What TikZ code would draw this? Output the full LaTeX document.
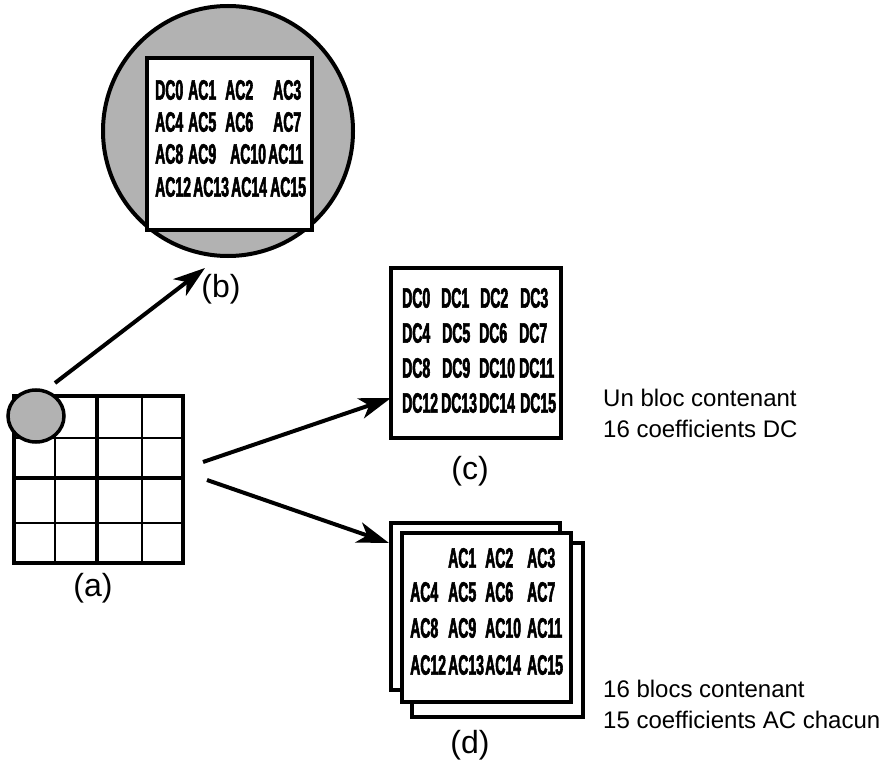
\documentclass[tikz,border=0pt]{standalone}
\usepackage{fontspec}
\setmainfont{Liberation Sans}
\newfontfamily\coeffont[FakeStretch=0.5,FakeBold=2]{Liberation Sans}
\usetikzlibrary{arrows.meta,shapes.geometric}
\tikzset{
  coef/.style={anchor=west, inner sep=0pt, font=\coeffont\bfseries\fontsize{28}{28}\selectfont},
  lbl/.style={inner sep=0pt, font=\fontsize{32}{32}\selectfont},
  side/.style={anchor=base west, inner sep=0pt, font=\fontsize{24}{24}\selectfont},
  arr/.style={line width=4pt, -{Stealth[length=32pt,width=21pt,inset=9pt]}},
  sheet/.style={draw, line width=3.5pt, fill=white, inner sep=0pt},
  thin/.style={line width=2pt},
  thick/.style={line width=3.2pt},
  blob/.style={draw, fill=gray!60, inner sep=0pt}
}
\begin{document}
\begin{tikzpicture}[x=1pt,y=-1pt]
\useasboundingbox (0,0) rectangle (892,765);

% (b) magnified block
\node[blob, circle, line width=4pt, minimum size=250pt] (bcirc) at (228,131) {};
\node[sheet, minimum width=165pt, minimum height=172pt] (binner) at (229.5,144) {};
\foreach \x/\y/\t [count=\i] in {155/90/DC0,188/90/AC1,225/90/AC2,273/90/AC3,
  155/122/AC4,188/122/AC5,225/122/AC6,273/122/AC7,
  155/154/AC8,188/154/AC9,230/154/AC10,268/154/AC11,
  155/187/AC12,193/187/AC13,231/187/AC14,270/187/AC15}
  \node[coef] (b\i) at (\x,\y) {\t};
\node[lbl] (lb) at (221,289) {(b)};

% (a) grid
\node[draw, line width=3.5pt, minimum width=169pt, minimum height=167pt, inner sep=0pt] (grid) at (98.5,479.5) {};
\draw[thin] (55,396) -- (55,563);
\draw[thin] (142,396) -- (142,563);
\draw[thin] (14,438) -- (183,438);
\draw[thin] (14,523) -- (183,523);
\draw[thick] (97,396) -- (97,563);
\draw[thick] (14,478) -- (183,478);
\node[blob, ellipse, line width=3.5pt, minimum width=56pt, minimum height=52pt] (zoomblk) at (36,416) {};
\node[lbl] (la) at (93,588) {(a)};

% (c) DC block
\node[sheet, minimum width=170pt, minimum height=170pt] (cbox) at (476,353) {};
\foreach \x/\y/\t [count=\i] in {402/298/DC0,441/298/DC1,480/298/DC2,520/298/DC3,
  402/333/DC4,442/333/DC5,479/333/DC6,519/333/DC7,
  402/368/DC8,442/368/DC9,479/368/DC10,519/368/DC11,
  402/403/DC12,441/403/DC13,479/403/DC14,520/403/DC15}
  \node[coef] (c\i) at (\x,\y) {\t};
\node[lbl] (lc) at (470,471) {(c)};
\node[side] (uc1) at (603,406) {Un bloc contenant};
\node[side] (uc2) at (603,437) {16 coefficients DC};

% (d) AC blocks
\node[sheet, minimum width=169pt, minimum height=167pt] (dback) at (475.5,606.5) {};
\node[sheet, minimum width=171pt, minimum height=174pt] (dlow) at (497.5,630) {};
\node[sheet, minimum width=169pt, minimum height=169pt] (dfront) at (486.5,617.5) {};
\foreach \x/\y/\t [count=\i] in {448/558/AC1,485/558/AC2,527/558/AC3,
  410/592/AC4,448/592/AC5,485/592/AC6,527/592/AC7,
  410/628/AC8,448/628/AC9,485/628/AC10,527/628/AC11,
  410/665/AC12,448/665/AC13,485/665/AC14,527/665/AC15}
  \node[coef] (d\i) at (\x,\y) {\t};
\node[lbl] (ld) at (470,745) {(d)};
\node[side] (ud1) at (603,697) {16 blocs contenant};
\node[side] (ud2) at (603,728) {15 coefficients AC chacun};

% arrows
\coordinate (sb) at (55,383);
\coordinate (tb) at (205,268);
\coordinate (sc) at (203,462);
\coordinate (tc) at (391,398);
\coordinate (sd) at (207,480);
\coordinate (td) at (389,543);
\draw[arr] (sb) -- (tb);
\draw[arr] (sc) -- (tc);
\draw[arr] (sd) -- (td);
\end{tikzpicture}
\end{document}
